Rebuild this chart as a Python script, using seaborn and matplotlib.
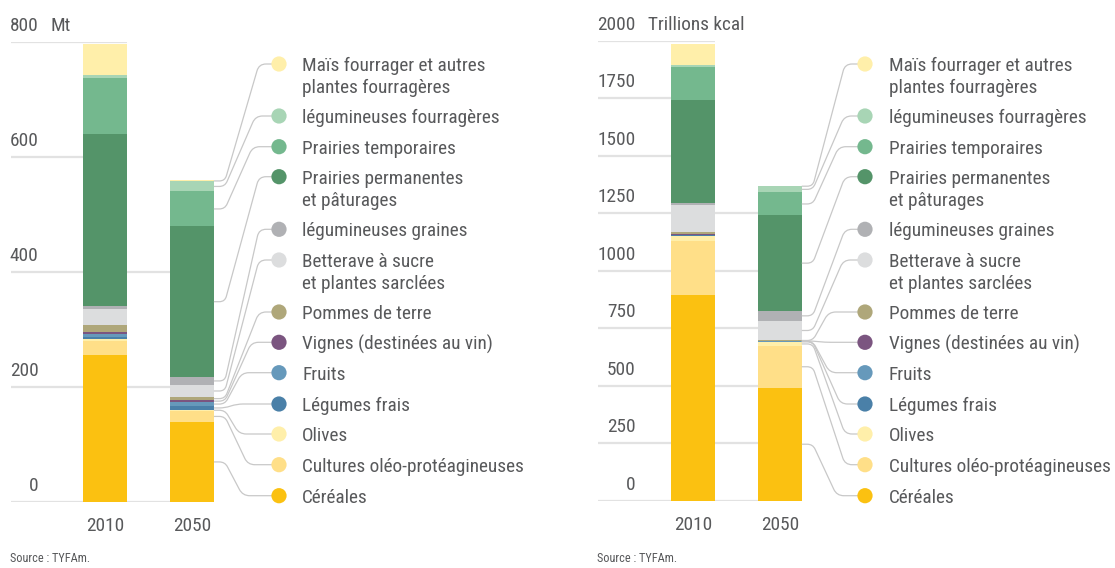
import numpy as np
import pandas as pd
import seaborn as sns
import matplotlib.pyplot as plt
from matplotlib import transforms, font_manager
from matplotlib.path import Path
from matplotlib.patches import PathPatch

# stack order, bottom to top
categories = [
    "Céréales",
    "Cultures oléo-protéagineuses",
    "Olives",
    "Légumes frais",
    "Fruits",
    "Vignes (destinées au vin)",
    "Pommes de terre",
    "Betterave à sucre\net plantes sarclées",
    "légumineuses graines",
    "Prairies permanentes\net pâturages",
    "Prairies temporaires",
    "légumineuses fourragères",
    "Maïs fourrager et autres\nplantes fourragères",
]
colors = [
    "#FBC111", "#FFDF88", "#FFEFAA", "#4A80A8", "#6699BB", "#7B5580", "#AFA77A",
    "#DCDDDE", "#B0B1B4", "#549469", "#74B88E", "#A8D5B5", "#FFEFAA",
]
years = ["2010", "2050"]

# Mt
mt_2010 = [255, 25, 3.5, 3.5, 5, 3.5, 12, 28, 5, 299, 98.5, 4.7, 54]
mt_2050 = [138.5, 20, 1.5, 6.5, 7, 3.3, 5.5, 21, 14, 262, 61, 17.4, 1.7]
mt_ticks = [0, 200, 400, 600, 800]

# trillions kcal
kcal_2010 = [895, 234, 22, 3, 2, 3, 9, 117, 8.5, 449, 145, 8.7, 90]
kcal_2050 = [491.5, 182.5, 16, 2, 2, 1.5, 3, 84, 43.5, 415, 100, 27, 0.5]
kcal_ticks = [0, 250, 500, 750, 1000, 1250, 1500, 1750, 2000]

W, H = 1115, 568
TXT = "#58595B"
GRID = "#E2E2E2"
LINK = "#C8C8C8"
BAR_W = 0.506

sns.set_theme(style="white")

# the original uses a condensed face; take the narrowest one we can find
fonts = font_manager.fontManager.ttflist
names = {f.name for f in fonts}
FS, SRC_FS = 11.2, 8
if "Roboto Condensed" in names:
    plt.rcParams["font.family"] = ["Roboto Condensed", "DejaVu Sans"]
    FS, SRC_FS = 13.9, 8.8
elif "Liberation Sans Narrow" in names:
    plt.rcParams["font.family"] = ["Liberation Sans Narrow", "DejaVu Sans"]
    FS, SRC_FS = 13.5, 8.8
elif any(f.name == "DejaVu Sans" and f.stretch == "condensed" for f in fonts):
    plt.rcParams["font.family"] = ["DejaVu Sans"]
    plt.rcParams["font.stretch"] = "condensed"
    FS, SRC_FS = 12, 8.5
else:
    plt.rcParams["font.family"] = ["DejaVu Sans"]

fig = plt.figure(figsize=(W / 100, H / 100), dpi=100)

overlay = fig.add_axes([0, 0, 1, 1], zorder=5)
overlay.set_xlim(0, W)
overlay.set_ylim(H, 0)
overlay.axis("off")
overlay.patch.set_visible(False)

# legend rows (pixel y of dot centres), top to bottom
legend_y = [64, 116, 146.7, 176.7, 229.3, 260, 312, 342.3, 372.7, 404, 434, 464.7, 495.7]


def leader(p0, p3, x1, x2):
    pts = [np.array(p0), np.array((x1, p0[1])), np.array((x2, p3[1])), np.array(p3)]
    verts, codes = [pts[0]], [Path.MOVETO]
    for k in (1, 2):
        a, b, c = pts[k - 1], pts[k], pts[k + 1]
        d1, d2 = b - a, c - b
        l1, l2 = np.hypot(*d1), np.hypot(*d2)
        r = min(7, l1 / 2, l2 / 2)
        verts += [b - d1 / l1 * r, b, b + d2 / l2 * r]
        codes += [Path.LINETO, Path.CURVE3, Path.CURVE3]
    verts.append(pts[3])
    codes.append(Path.LINETO)
    return Path(verts, codes)


def draw_panel(left_px, center_px, unit_px, top_px, zero_px, vals_a, vals_b,
               ticks, unit, unit_x, label_x, dot_x, text_x):
    ymax = ticks[-1]
    right_px = center_px + unit_px * (1 + BAR_W / 2)
    ax = fig.add_axes([left_px / W, 1 - zero_px / H,
                       (right_px - left_px) / W, (zero_px - top_px) / H])
    xlim = ((left_px - center_px) / unit_px, (right_px - center_px) / unit_px)

    bottoms = np.zeros(2)
    mids = []
    for cat, col, a, b in zip(categories, colors, vals_a, vals_b):
        sns.barplot(x=years, y=[a, b], bottom=bottoms.copy(), color=col,
                    width=BAR_W, errorbar=None, saturation=1, linewidth=0,
                    ax=ax, zorder=2)
        mids.append(bottoms[1] + b / 2)
        bottoms += np.array([a, b])
    totals = bottoms

    ax.set_xlim(*xlim)
    ax.set_ylim(0, ymax)
    for s in ax.spines.values():
        s.set_visible(False)
    ax.set_yticks([])
    ax.set_xticks([0, 1])
    ax.set_xticklabels(years)
    ax.tick_params(axis="x", length=0, pad=11, labelsize=FS, labelcolor=TXT)
    ax.set_xlabel("")
    ax.set_ylabel("")
    ax.grid(False)

    # grid lines stop at the last bar that reaches them
    for t in ticks:
        idx = max([i for i, tot in enumerate(totals) if tot >= t], default=0)
        ax.hlines(t, xlim[0], idx + BAR_W / 2, color=GRID, lw=1.6, zorder=0)

    lab_tr = transforms.offset_copy(
        transforms.blended_transform_factory(overlay.transData, ax.transData),
        fig=fig, y=11, units="dots")
    for t in ticks:
        ax.text(label_x, t, f"{t}", transform=lab_tr, ha="right", va="baseline",
                fontsize=FS, color=TXT)
    ax.text(unit_x, ymax, unit, transform=lab_tr, ha="left", va="baseline",
            fontsize=FS, color=TXT)

    # legend
    rows = categories[::-1]
    row_cols = colors[::-1]
    sns.scatterplot(x=[dot_x] * len(rows), y=legend_y, hue=rows, hue_order=rows,
                    palette=row_cols, s=120, linewidth=0, legend=False,
                    ax=overlay, zorder=6)
    for lab, y in zip(rows, legend_y):
        for j, line in enumerate(lab.split("\n")):
            overlay.text(text_x, y + 7 + j * 22, line, ha="left", va="baseline",
                         fontsize=FS, color=TXT)

    # leader lines from the 2050 bar to the legend dots
    to_px = overlay.transData.inverted()
    xr = 1 + BAR_W / 2
    for i, m in enumerate(mids):
        p0 = to_px.transform(ax.transData.transform((xr, m)))
        y1 = legend_y[len(categories) - 1 - i]
        x1 = p0[0] + 11
        span = np.clip(0.35 * abs(y1 - p0[1]) + 6, 12, dot_x - 20 - x1)
        path = leader(p0, (dot_x, y1), x1, x1 + span)
        overlay.add_patch(PathPatch(path, fill=False, edgecolor=LINK, lw=0.9,
                                    zorder=4))
    return ax


draw_panel(10.7, 105, 86.9, 42.3, 501.7, mt_2010, mt_2050, mt_ticks, "Mt",
           50, 38.5, 279, 302)
draw_panel(597.5, 693, 86.8, 41, 500.7, kcal_2010, kcal_2050, kcal_ticks,
           "Trillions kcal", 648, 635.5, 865, 889)

fig.text(10 / W, 1 - 558 / H, "Source : TYFAm.", ha="left", va="center",
         fontsize=SRC_FS, color=TXT)
fig.text(597 / W, 1 - 558 / H, "Source : TYFAm.", ha="left", va="center",
         fontsize=SRC_FS, color=TXT)

fig.savefig("out.png", dpi=100)
